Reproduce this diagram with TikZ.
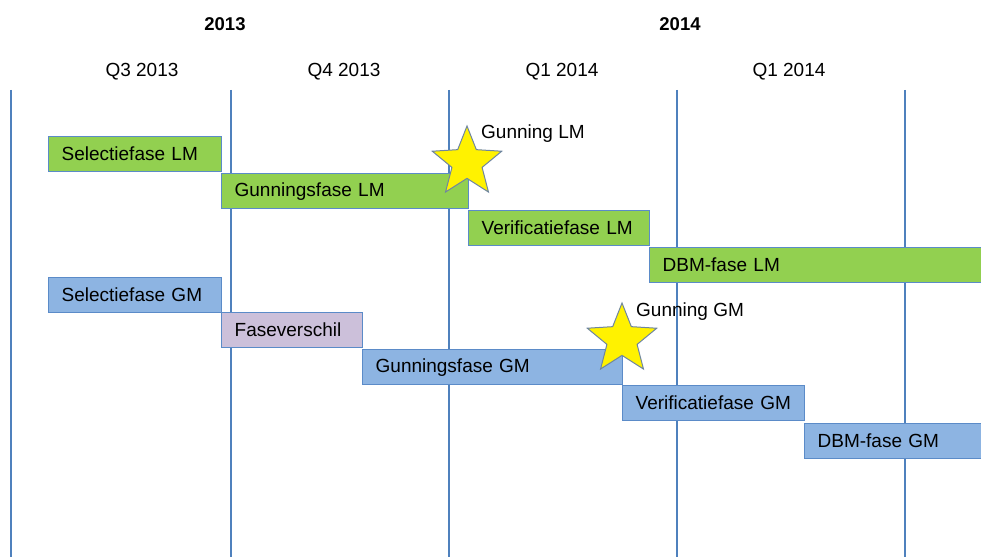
\documentclass[tikz,border=0pt]{standalone}
\usepackage{fontspec}
\setmainfont{Liberation Sans}
\usetikzlibrary{shapes.geometric}
\definecolor{lineblue}{HTML}{4F81BD}
\definecolor{barborder}{HTML}{5B8BC8}
\definecolor{lmgreen}{HTML}{92D050}
\definecolor{gmblue}{HTML}{8DB4E2}
\definecolor{lavender}{HTML}{CCC0DA}
\definecolor{staredge}{HTML}{6F86A0}
\begin{document}
\begin{tikzpicture}[x=1pt,y=-1pt,
  every node/.style={font=\fontsize{19}{22}\selectfont},
  grid/.style={draw=lineblue, line width=1.3pt},
  bx/.style={draw=barborder, line width=1.3pt, minimum height=35pt, inner xsep=13pt, inner ysep=0pt, align=left, anchor=north west, text=black},
  lm/.style={bx, fill=lmgreen},
  gm/.style={bx, fill=gmblue},
  fv/.style={bx, fill=lavender},
  yr/.style={font=\fontsize{18.5}{22}\selectfont\bfseries},
  qt/.style={},
  starshape/.style={star, star points=5, star point ratio=2.3, fill=yellow, draw=staredge, line width=1pt, inner sep=0pt, minimum size=73pt},
  lbl/.style={anchor=west, inner sep=0pt}
]
\useasboundingbox (0,0) rectangle (981,556);
\clip (0,0) rectangle (981,556);
% headers
\node[yr] (y13) at (225,24) {2013};
\node[yr] (y14) at (680,24) {2014};
\node[qt] (q3) at (142,71.5) {Q3 2013};
\node[qt] (q4) at (344,71.5) {Q4 2013};
\node[qt] (q1a) at (562,71.5) {Q1 2014};
\node[qt] (q1b) at (789,71.5) {Q1 2014};
% vertical lines
\foreach \x/\n in {11/a,231/b,449/c,677/d,905/e}{
  \coordinate (t\n) at (\x,90);
  \coordinate (b\n) at (\x,560);
  \draw[grid] (t\n) -- (b\n);
}
% LM bars
\node[lm, minimum width=173pt, text width=147pt] (slm) at (48,136) {Selectiefase LM};
\node[lm, minimum width=247pt, text width=221pt] (glm) at (221,173) {Gunningsfase LM};
\node[lm, minimum width=181pt, text width=155pt] (vlm) at (468,210) {Verificatiefase LM};
\node[lm, minimum width=345pt, text width=319pt] (dlm) at (649,247) {DBM-fase LM};
% GM bars
\node[gm, minimum width=173pt, text width=147pt] (sgm) at (48,277) {Selectiefase GM};
\node[fv, minimum width=141pt, text width=115pt] (fgm) at (221,312) {Faseverschil};
\node[gm, minimum width=260pt, text width=234pt] (ggm) at (362,349) {Gunningsfase GM};
\node[gm, minimum width=182pt, text width=156pt] (vgm) at (622,385) {Verificatiefase GM};
\node[gm, minimum width=190pt, text width=164pt] (dgm) at (804,423) {DBM-fase GM};
% stars
\node[starshape] (slmstar) at (467,162.5) {};
\node[starshape] (sgmstar) at (622,339.5) {};
\node[lbl] (llm) at (481,134) {Gunning LM};
\node[lbl] (lgm) at (636,312) {Gunning GM};
\end{tikzpicture}
\end{document}
